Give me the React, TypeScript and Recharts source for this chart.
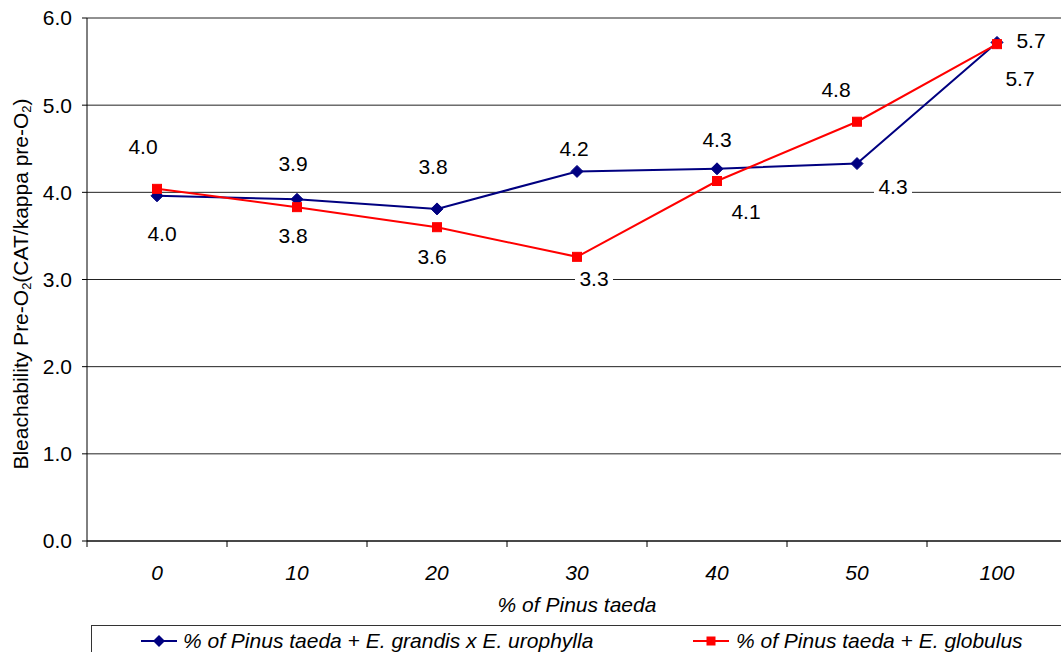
import React from 'react';
import { LineChart, Line, XAxis, YAxis, CartesianGrid, LabelList } from 'recharts';

// Share of Pinus taeda in the blend (categories on the x axis)
const categories = ['0', '10', '20', '30', '40', '50', '100'];
// Bleachability pre-O2 for each blend
const grandisUrophylla = [3.96, 3.92, 3.81, 4.24, 4.27, 4.33, 5.72];
const globulus = [4.04, 3.83, 3.6, 3.26, 4.13, 4.81, 5.7];
const yTicks = [0, 1, 2, 3, 4, 5, 6];
const seriesNames = [
  '% of Pinus taeda + E. grandis x E. urophylla',
  '% of Pinus taeda + E. globulus',
];
const xTitle = '% of Pinus taeda';

// Category slots sit between integer boundaries on a numeric axis
const data = categories.map((c, i) => ({
  pos: i + 0.5,
  name: c,
  a: grandisUrophylla[i],
  b: globulus[i],
}));
const xTicks = Array.from({ length: categories.length * 2 + 1 }, (_, i) => i / 2);

// Where each value label sits relative to its point
const blueLabelOffsets: [number, number][] = [
  [-14, -49], [-4, -36], [-4, -42], [-3, -23], [0, -29], [36, 23], [34, -2],
];
const redLabelOffsets: [number, number][] = [
  [5, 45], [-4, 28], [-5, 29], [17, 22], [29, 30], [-21, -32], [23, 34],
];

const FONT = '"Liberation Sans", Arial, sans-serif';
const BLUE = '#000080';
const RED = '#FF0000';

const XTick = (props: any) => {
  const { x, y, payload } = props;
  const v = payload.value as number;
  if (Number.isInteger(v)) {
    return <line x1={x} x2={x} y1={y} y2={y + 6} stroke="#000" strokeWidth={1} />;
  }
  return (
    <text x={x} y={y + 39} textAnchor="middle" fontFamily={FONT} fontSize={21} fontStyle="italic" fill="#000">
      {categories[Math.floor(v)]}
    </text>
  );
};

const Diamond = (props: any) => {
  const { cx, cy } = props;
  if (cx == null || cy == null) return null;
  return (
    <path
      d={`M${cx},${cy - 6}L${cx + 6},${cy}L${cx},${cy + 6}L${cx - 6},${cy}Z`}
      fill={BLUE}
      stroke={BLUE}
      strokeWidth={1}
    />
  );
};

const Square = (props: any) => {
  const { cx, cy } = props;
  if (cx == null || cy == null) return null;
  return <rect x={cx - 4.5} y={cy - 4.5} width={9} height={9} fill={RED} stroke={RED} strokeWidth={1} />;
};

const makeValueLabel = (offsets: [number, number][]) => (props: any) => {
  const { index, value } = props;
  const px = props.x ?? props.viewBox?.x;
  const py = props.y ?? props.viewBox?.y;
  if (px == null || py == null) return null;
  const [dx, dy] = offsets[index] || [0, -20];
  const cx = px + dx;
  const cy = py + dy;
  return (
    <g>
      <rect x={cx - 19} y={cy - 11} width={38} height={22} fill="#fff" />
      <text x={cx} y={cy} dy="0.36em" textAnchor="middle" fontFamily={FONT} fontSize={21} fill="#000">
        {Number(value).toFixed(1)}
      </text>
    </g>
  );
};

const YTitle = () => (
  <text
    x={28}
    y={284}
    transform="rotate(-90, 28, 284)"
    textAnchor="middle"
    fontFamily={FONT}
    fontSize={21}
    fill="#000"
  >
    Bleachability Pre-O
    <tspan fontSize={13} dy={3}>2</tspan>
    <tspan dy={-3}>(CAT/kappa pre-O</tspan>
    <tspan fontSize={13} dy={3}>2</tspan>
    <tspan dy={-3}>)</tspan>
  </text>
);

const XTitle = (props: any) => {
  const vb = props.viewBox || { x: 87, width: 980 };
  return (
    <text
      x={vb.x + vb.width / 2}
      y={612}
      textAnchor="middle"
      fontFamily={FONT}
      fontSize={21}
      fontStyle="italic"
      fill="#000"
    >
      {xTitle}
    </text>
  );
};

const LegendIcon = ({ kind }: { kind: 'diamond' | 'square' }) => (
  <svg width={36} height={14} style={{ display: 'block' }}>
    <line x1={0} x2={36} y1={7} y2={7} stroke={kind === 'diamond' ? BLUE : RED} strokeWidth={2} />
    {kind === 'diamond' ? (
      <path d="M18,1L24,7L18,13L12,7Z" fill={BLUE} />
    ) : (
      <rect x={13.5} y={2.5} width={9} height={9} fill={RED} />
    )}
  </svg>
);

export default function App() {
  return (
    <div
      style={{
        position: 'absolute',
        left: 0,
        top: 0,
        width: 1061,
        height: 652,
        overflow: 'hidden',
        background: '#fff',
      }}
    >
      <LineChart
        width={1080}
        height={652}
        data={data}
        margin={{ top: 18, right: 13, left: 0, bottom: 51 }}
      >
        <CartesianGrid vertical={false} stroke="#222" strokeWidth={1} />
        <XAxis
          dataKey="pos"
          type="number"
          domain={[0, 7]}
          ticks={xTicks}
          interval={0}
          tickSize={0}
          tickMargin={0}
          tickLine={false}
          tick={<XTick />}
          height={60}
          axisLine={{ stroke: '#000', strokeWidth: 1 }}
          label={<XTitle />}
        />
        <YAxis
          type="number"
          domain={[0, 6]}
          ticks={yTicks}
          interval={0}
          width={87}
          tickSize={5}
          tickMargin={10}
          tickFormatter={(v: number) => v.toFixed(1)}
          tick={{ fontFamily: FONT, fontSize: 21, fill: '#000' }}
          tickLine={{ stroke: '#000' }}
          axisLine={{ stroke: '#000', strokeWidth: 1 }}
          label={<YTitle />}
        />
        <Line
          type="linear"
          dataKey="a"
          name={seriesNames[0]}
          stroke={BLUE}
          strokeWidth={2}
          dot={<Diamond />}
          activeDot={false}
          isAnimationActive={false}
        >
          <LabelList dataKey="a" content={makeValueLabel(blueLabelOffsets)} />
        </Line>
        <Line
          type="linear"
          dataKey="b"
          name={seriesNames[1]}
          stroke={RED}
          strokeWidth={2}
          dot={<Square />}
          activeDot={false}
          isAnimationActive={false}
        >
          <LabelList dataKey="b" content={makeValueLabel(redLabelOffsets)} />
        </Line>
      </LineChart>

      {/* Legend box, open at the right and bottom edges */}
      <div
        style={{
          position: 'absolute',
          left: 91,
          top: 625,
          width: 1000,
          height: 60,
          borderTop: '1px solid #333',
          borderLeft: '1px solid #333',
          fontFamily: FONT,
          fontSize: 21,
          fontStyle: 'italic',
          color: '#000',
        }}
      >
        <div style={{ position: 'absolute', left: 49, top: 8 }}>
          <LegendIcon kind="diamond" />
        </div>
        <div style={{ position: 'absolute', left: 91, top: 2, whiteSpace: 'nowrap', lineHeight: '26px' }}>
          {seriesNames[0]}
        </div>
        <div style={{ position: 'absolute', left: 601, top: 8 }}>
          <LegendIcon kind="square" />
        </div>
        <div style={{ position: 'absolute', left: 644, top: 2, whiteSpace: 'nowrap', lineHeight: '26px' }}>
          {seriesNames[1]}
        </div>
      </div>
    </div>
  );
}
